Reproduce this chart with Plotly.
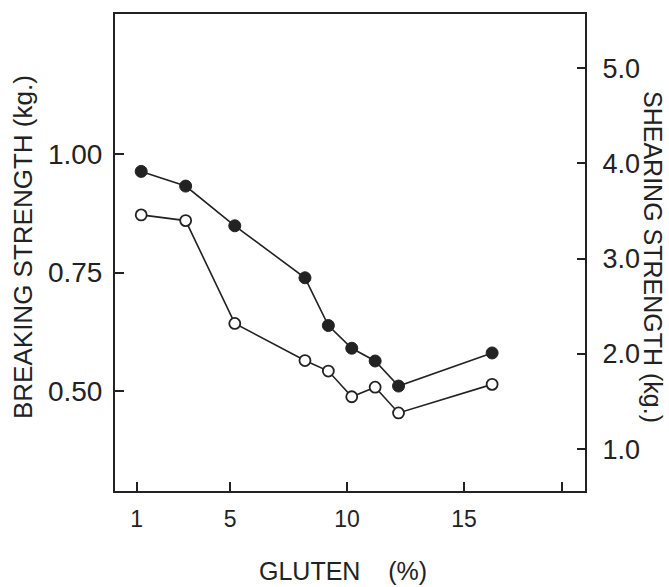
import plotly.graph_objects as go

# Data
gluten = [1.2, 3.1, 5.2, 8.2, 9.2, 10.2, 11.2, 12.2, 16.2]
breaking_strength = [0.964, 0.933, 0.849, 0.739, 0.638, 0.590, 0.563, 0.510, 0.580]
shearing_strength = [3.46, 3.40, 2.32, 1.93, 1.82, 1.55, 1.65, 1.38, 1.68]

x_tickvals = [1, 5, 10, 15, 19.2]
x_ticktext = ["1", "5", "10", "15", ""]
left_tickvals = [0.50, 0.75, 1.00]
left_ticktext = ["0.50", "0.75", "1.00"]
right_tickvals = [1.0, 2.0, 3.0, 4.0, 5.0]
right_ticktext = ["1.0", "2.0", "3.0", "4.0", "5.0"]

INK = "#222222"
FONT = "Liberation Sans"

fig = go.Figure()
fig.add_trace(go.Scatter(
    x=gluten, y=breaking_strength, mode="lines+markers", yaxis="y",
    line=dict(color=INK, width=1.6),
    marker=dict(symbol="circle", size=12, color=INK, line=dict(color=INK, width=1)),
    showlegend=False))
fig.add_trace(go.Scatter(
    x=gluten, y=shearing_strength, mode="lines+markers", yaxis="y2",
    line=dict(color=INK, width=1.6),
    marker=dict(symbol="circle", size=11, color="white", line=dict(color=INK, width=1.8)),
    showlegend=False))

fig.update_layout(
    width=669, height=587,
    margin=dict(l=115, r=84, t=14, b=96, autoexpand=False),
    paper_bgcolor="white", plot_bgcolor="white",
    font=dict(family=FONT, color=INK),
    xaxis=dict(
        range=[0.08, 20.17], showgrid=False, zeroline=False,
        showline=True, linecolor=INK, linewidth=2, mirror=True,
        ticks="inside", ticklen=9, tickwidth=1.6, tickcolor=INK,
        tickvals=x_tickvals, ticktext=x_ticktext,
        tickfont=dict(size=23, family=FONT, color=INK),
        ticklabelstandoff=6,
    ),
    yaxis=dict(
        range=[0.288, 1.297], showgrid=False, zeroline=False,
        showline=True, linecolor=INK, linewidth=2,
        ticks="inside", ticklen=9, tickwidth=1.6, tickcolor=INK,
        tickvals=left_tickvals, ticktext=left_ticktext,
        tickfont=dict(size=28, family=FONT, color=INK),
        ticklabelstandoff=5,
    ),
    yaxis2=dict(
        range=[0.56, 5.57], overlaying="y", side="right",
        showgrid=False, zeroline=False,
        showline=True, linecolor=INK, linewidth=2,
        ticks="inside", ticklen=8, tickwidth=1.6, tickcolor=INK,
        tickvals=right_tickvals, ticktext=right_ticktext,
        tickfont=dict(size=27, family=FONT, color=INK),
        ticklabelstandoff=10,
    ),
    annotations=[
        dict(text="GLUTEN\u00a0\u00a0\u00a0\u00a0(%)", xref="paper", yref="paper",
             x=(343 - 115) / 470, y=-(571 - 491) / 477, xanchor="center", yanchor="middle",
             showarrow=False, font=dict(size=25, family=FONT, color=INK)),
        dict(text="BREAKING STRENGTH (kg.)", xref="paper", yref="paper",
             x=-(115 - 23) / 470, y=(491 - 247) / 477, xanchor="center", yanchor="middle",
             textangle=-90, showarrow=False, font=dict(size=26, family=FONT, color=INK)),
        dict(text="SHEARING STRENGTH (kg.)", xref="paper", yref="paper",
             x=1 + (653 - 585) / 470, y=(491 - 257) / 477, xanchor="center", yanchor="middle",
             textangle=90, showarrow=False, font=dict(size=25, family=FONT, color=INK)),
    ],
)

fig.write_html(
    "out.html",
    config={"displayModeBar": False},
    post_script="document.body.style.margin='0';document.body.style.overflow='hidden';",
)
